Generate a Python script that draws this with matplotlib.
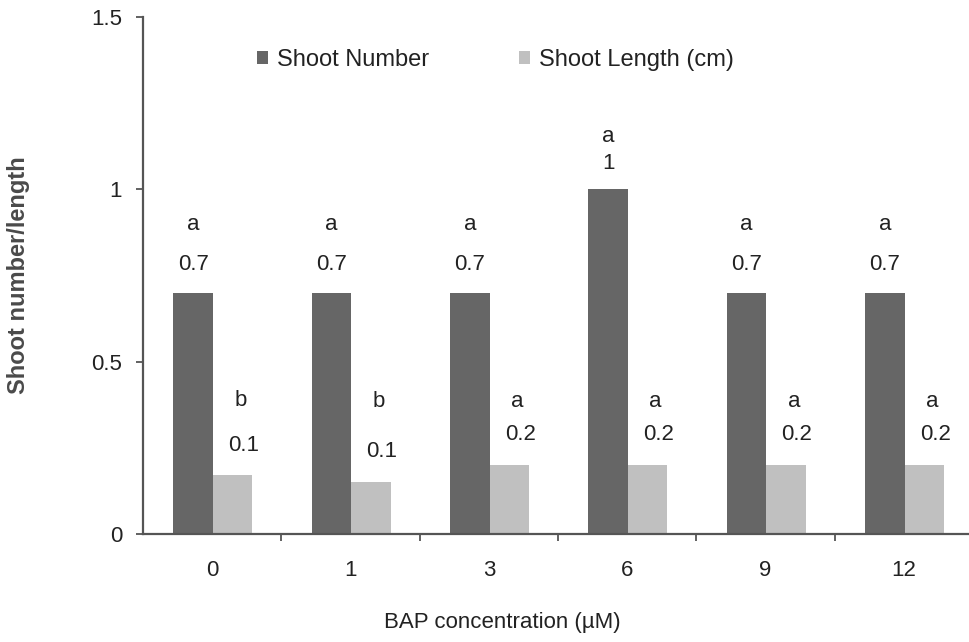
import numpy as np
import matplotlib
matplotlib.use('Agg')
import matplotlib.pyplot as plt

concentrations = ['0', '1', '3', '6', '9', '12']
shoot_number = [0.7, 0.7, 0.7, 1.0, 0.7, 0.7]
shoot_length = [0.17, 0.15, 0.2, 0.2, 0.2, 0.2]

# value labels and significance letters printed above the bars
number_labels = ['0.7', '0.7', '0.7', '1', '0.7', '0.7']
number_letters = ['a', 'a', 'a', 'a', 'a', 'a']
length_labels = ['0.1', '0.1', '0.2', '0.2', '0.2', '0.2']
length_letters = ['b', 'b', 'a', 'a', 'a', 'a']

plt.rcParams['font.family'] = ['Liberation Sans', 'DejaVu Sans']

dark = '#666666'
light = '#c0c0c0'
axis_col = '#555555'
text_col = '#222222'

fig = plt.figure(figsize=(9.69, 6.42), dpi=100)
ax = fig.add_axes([0.1476, 0.1682, 0.8524, 0.8053])

x = np.arange(len(concentrations))
w = 0.285
b1 = ax.bar(x - 0.138, shoot_number, w, color=dark, label='Shoot Number')
b2 = ax.bar(x + 0.147, shoot_length, w, color=light, label='Shoot Length (cm)')

# offsets (pixels) of the value and letter labels above each bar
num_off = [28, 28, 28, 26, 28, 28]
num_let_off = [68, 68, 68, 53, 68, 68]
len_off = [30, 31, 31, 31, 31, 31]
len_let_off = [75, 81, 64, 64, 64, 64]

for i, rect in enumerate(b1):
    cx = rect.get_x() + rect.get_width() / 2
    top = rect.get_height()
    ax.annotate(number_labels[i], (cx, top), xytext=(0, num_off[i]), textcoords='offset pixels',
                ha='center', va='center', fontsize=16, color=text_col)
    ax.annotate(number_letters[i], (cx, top), xytext=(0, num_let_off[i]), textcoords='offset pixels',
                ha='center', va='center', fontsize=16, color=text_col)

for i, rect in enumerate(b2):
    cx = rect.get_x() + rect.get_width() / 2
    top = rect.get_height()
    ax.annotate(length_labels[i], (cx, top), xytext=(11, len_off[i]), textcoords='offset pixels',
                ha='center', va='center', fontsize=16, color=text_col)
    ax.annotate(length_letters[i], (cx, top), xytext=(8, len_let_off[i]), textcoords='offset pixels',
                ha='center', va='center', fontsize=16, color=text_col)

ax.set_ylim(0, 1.5)
ax.set_xlim(-0.5, 5.47)
ax.set_yticks([0, 0.5, 1, 1.5])
ax.set_yticklabels(['0', '0.5', '1', '1.5'])
ax.set_xticks(x)
ax.set_xticklabels(concentrations)
ax.set_xticks(np.arange(0.5, 5.0, 1.0), minor=True)

for s in ['top', 'right']:
    ax.spines[s].set_visible(False)
for s in ['left', 'bottom']:
    ax.spines[s].set_color(axis_col)
    ax.spines[s].set_linewidth(1.6)

ax.tick_params(axis='x', which='major', length=0, pad=19, labelsize=16, labelcolor=text_col)
ax.tick_params(axis='x', which='minor', length=5, width=1.3, color=axis_col, direction='out')
ax.tick_params(axis='y', length=5, width=1.3, color=axis_col, pad=10, labelsize=16, labelcolor=text_col)

ax.set_xlabel('BAP concentration (µM)', fontsize=16, color=text_col, va='center')
ax.xaxis.set_label_coords(0.435, -0.172)
ax.set_ylabel('Shoot number/length', fontsize=17, fontweight='bold', color='#4a4a4a')
ax.yaxis.set_label_coords(-0.137, 0.5)

fig.legend(handles=[b1, b2], loc='center left', bbox_to_anchor=(257 / 969, 1 - 60 / 642),
           ncol=2, frameon=False, fontsize=17, labelcolor=text_col, borderpad=0, borderaxespad=0,
           handlelength=0.45, handleheight=0.45, handletextpad=0.4, columnspacing=3.8)

fig.savefig('out.png', dpi=100)
